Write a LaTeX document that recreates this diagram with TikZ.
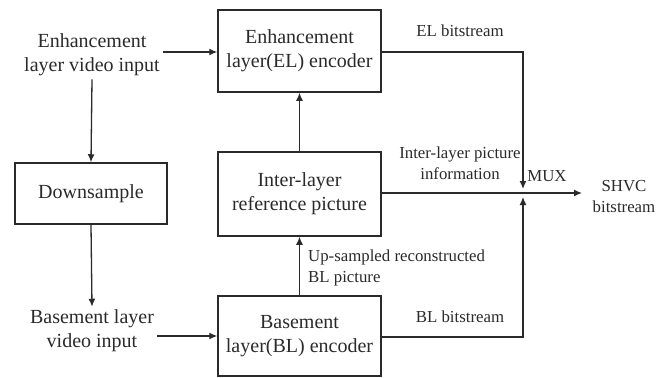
\documentclass[tikz,border=0pt]{standalone}
\usepackage{fontspec}
\setmainfont{Liberation Serif}
\usetikzlibrary{arrows.meta,positioning}
\definecolor{ink}{HTML}{2A2A2A}
\tikzset{
  blockbox/.style={draw=ink, line width=1.5pt, minimum width=163pt, align=center,
    text=ink, font=\fontsize{20}{24}\selectfont},
  intext/.style={align=center, text=ink, inner sep=3pt, font=\fontsize{20}{24}\selectfont},
  lbl/.style={align=center, text=ink, inner sep=0pt, font=\fontsize{16.8}{21}\selectfont},
  conn/.style={draw=ink, line width=1.3pt},
  arr/.style={conn, -{Latex[length=8pt,width=7pt]}}
}
\begin{document}
\begin{tikzpicture}[x=1pt,y=-1pt]
\useasboundingbox (0,0) rectangle (657,378);

% processing blocks
\node[blockbox, minimum height=82pt] (el) at (299.5,51) {Enhancement\\layer(EL) encoder};
\node[blockbox, minimum height=84pt] (inter) at (299.5,194) {Inter-layer\\reference picture};
\node[blockbox, minimum height=80pt] (bl) at (299.5,336) {Basement\\layer(BL) encoder};
\node[blockbox, minimum width=152pt, minimum height=61pt] (down) at (91,193.5) {Downsample};

% video inputs
\node[intext] (ein) at (92,55) {Enhancement\\layer video input};
\node[intext] (bin) at (92,331) {Basement layer\\video input};

% multiplexer junction and output end
\coordinate (mux) at (523,193);
\coordinate (out) at (582,193);

% connectors
\draw[arr] (ein.east |- 0,52) -- (el.west |- 0,52);
\draw[arr] (ein.south) -- (down.north);
\draw[arr] (down.south) -- (bin.north);
\draw[arr] (bin.east |- 0,336) -- (bl.west |- 0,336);
\draw[arr] (inter.north) -- (el.south);
\draw[arr] (bl.north) -- (inter.south);
\draw[arr, shorten >=4pt] (el.east |- 0,52) -| (mux);
\draw[arr, shorten >=4pt] (bl.east |- 0,337) -| (mux);
\draw[arr] (inter.east |- mux) -- (out);

% labels
\node[lbl] (lel) at (460,31) {EL bitstream};
\node[lbl] (linter) at (460,163) {Inter-layer picture\\information};
\node[lbl] (lmux) at (547,176) {MUX};
\node[lbl] (lbl) at (460,317) {BL bitstream};
\node[lbl, align=left, anchor=west] (lup) at (308,268) {Up-sampled reconstructed\\BL picture};
\node[lbl] (lshvc) at (624,197) {SHVC\\bitstream};
\end{tikzpicture}
\end{document}
